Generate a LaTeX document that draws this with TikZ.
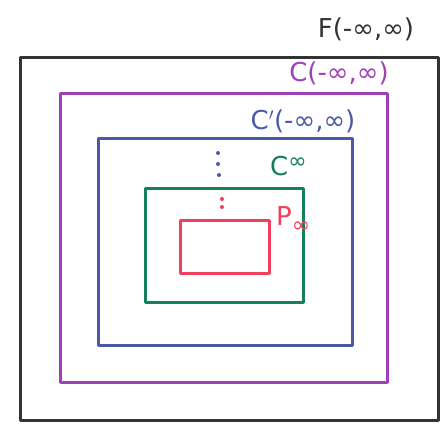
\documentclass[tikz,border=0pt]{standalone}
\usepackage{fontspec}
\setmainfont{DejaVu Sans}
\definecolor{cblack}{HTML}{333333}
\definecolor{cpurple}{HTML}{A040B8}
\definecolor{cblue}{HTML}{4A5AA8}
\definecolor{cgreen}{HTML}{138058}
\definecolor{cred}{HTML}{F0405C}
\newcommand{\bigsup}{\raisebox{7pt}{\fontsize{22}{24}\selectfont ∞}}
\newcommand{\bigsub}{\raisebox{-7pt}{\fontsize{22}{24}\selectfont ∞}}
\tikzset{
  setbox/.style={draw, line width=3pt, line join=round},
  setlabel/.style={font=\fontsize{26}{29}\selectfont, inner sep=0pt},
  dotmark/.style={fill, circle, inner sep=0pt, minimum size=4pt}
}
\begin{document}
\begin{tikzpicture}[x=1pt,y=-1pt]
\useasboundingbox (0,0) rectangle (446,436);
\draw[setbox, cblack] (20,57) rectangle (438,420);
\draw[setbox, cpurple] (60,93) rectangle (387,382);
\draw[setbox, cblue] (98,138) rectangle (352,345);
\draw[setbox, cgreen] (145,188) rectangle (303,302);
\draw[setbox, cred] (180,220) rectangle (269,273);
\node[setlabel, text=cblack] (lf) at (366,29) {F(-∞,∞)};
\node[setlabel, text=cpurple] (lc) at (339,73) {C(-∞,∞)};
\node[setlabel, text=cblue] (lcp) at (303,121) {C$'$(-∞,∞)};
\node[setlabel, text=cgreen, anchor=west] (lci) at (270,166) {C\bigsup};
\node[setlabel, text=cred, anchor=west] (lp) at (276,220) {P\bigsub};
\node[dotmark, cblue] (b1) at (218,153) {};
\node[dotmark, cblue] (b2) at (218,164) {};
\node[dotmark, cblue] (b3) at (219,175) {};
\node[dotmark, cred] (r1) at (222,199) {};
\node[dotmark, cred] (r2) at (222,207) {};
\end{tikzpicture}
\end{document}
